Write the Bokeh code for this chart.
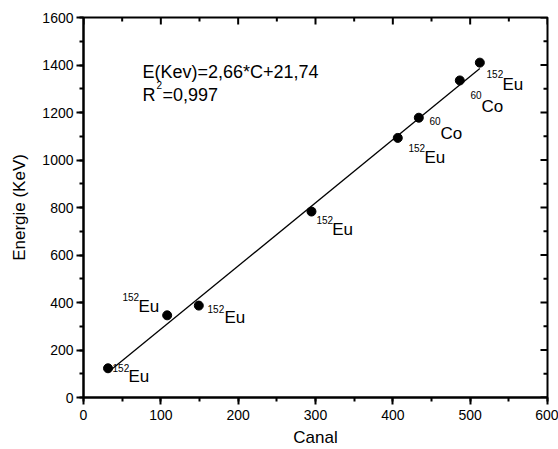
from bokeh.plotting import figure
from bokeh.models import Range1d, ColumnDataSource, SingleIntervalTicker
from bokeh.core.properties import value
from bokeh.embed import file_html
from bokeh.resources import INLINE

# ---- data ----
canal = [31.7, 108.2, 149.1, 294.8, 406.4, 433.6, 486.6, 512.5]
energie = [123, 346, 387, 783, 1093, 1178, 1335, 1410]
mass_numbers = ["152", "152", "152", "152", "152", "60", "60", "152"]
elements = ["Eu", "Eu", "Eu", "Eu", "Eu", "Co", "Co", "Eu"]
slope = 2.66
intercept = 21.74
fit_text = "E(Kev)=2,66*C+21,74"
r2_text = "=0,997"
x_label = "Canal"
y_label = "Energie (KeV)"
x_min, x_max, x_step = 0, 600, 100
y_min, y_max, y_step = 0, 1600, 200

# ---- label placement (pixels relative to each point) ----
BASE_SHIFT = -6
sup_dx = [4.5, -44.7, 8.7, 5, 10.7, 10.7, 10.7, 6.7]
sup_dy = [5.7, -12.3, 9, 14, 15.7, 9.7, 21, 17]
main_dx = [20.5, -28.7, 25.7, 20.7, 26.7, 21.7, 21.7, 22.7]
main_dy = [14, -3.3, 18, 24, 25.7, 21.7, 32, 28]

FONT = value("Liberation Sans")
W, H = 558, 449
BL, BR, BT, BB = 83, 11, 17, 52
frame_w = W - BL - BR
frame_h = H - BT - BB
px_x = frame_w / (x_max - x_min)
px_y = frame_h / (y_max - y_min)

p = figure(width=W, height=H, x_range=Range1d(x_min, x_max), y_range=Range1d(y_min, y_max),
           output_backend="svg", toolbar_location=None,
           min_border_left=BL, min_border_right=BR, min_border_top=BT, min_border_bottom=BB,
           x_axis_label=x_label, y_axis_label=y_label)
p.outline_line_color = "black"
p.outline_line_width = 2
p.xgrid.visible = False
p.ygrid.visible = False

p.xaxis.ticker = SingleIntervalTicker(interval=x_step, num_minor_ticks=2)
p.yaxis.ticker = SingleIntervalTicker(interval=y_step, num_minor_ticks=2)

for ax in (p.xaxis[0], p.yaxis[0]):
    ax.axis_line_width = 2
    ax.axis_line_color = "black"
    ax.major_tick_line_width = 2
    ax.minor_tick_line_width = 2
    ax.major_tick_out = 7
    ax.major_tick_in = 0
    ax.minor_tick_out = 4
    ax.minor_tick_in = 0
    ax.major_label_text_font = "Liberation Sans"
    ax.major_label_text_font_size = "14px"
    ax.major_label_text_color = "black"
    ax.axis_label_text_font = "Liberation Sans"
    ax.axis_label_text_font_size = "17px"
    ax.axis_label_text_font_style = "normal"
    ax.axis_label_text_color = "black"

p.xaxis.major_label_standoff = 5
p.xaxis.axis_label_standoff = 5
p.yaxis.major_label_standoff = 3
p.yaxis.axis_label_standoff = 10

# inward ticks on top and right edges
maj_x = list(range(x_min, x_max + 1, x_step))
min_x = [v + x_step / 2 for v in maj_x[:-1]]
maj_y = list(range(y_min, y_max + 1, y_step))
min_y = [v + y_step / 2 for v in maj_y[:-1]]
MAJ, MIN = 7, 4
p.segment(x0=maj_x, x1=maj_x, y0=[y_max] * len(maj_x), y1=[y_max - MAJ / px_y] * len(maj_x),
          line_color="black", line_width=2)
p.segment(x0=min_x, x1=min_x, y0=[y_max] * len(min_x), y1=[y_max - MIN / px_y] * len(min_x),
          line_color="black", line_width=2)
p.segment(x0=[x_max] * len(maj_y), x1=[x_max - MAJ / px_x] * len(maj_y), y0=maj_y, y1=maj_y,
          line_color="black", line_width=2)
p.segment(x0=[x_max] * len(min_y), x1=[x_max - MIN / px_x] * len(min_y), y0=min_y, y1=min_y,
          line_color="black", line_width=2)

# fit line
fx = [min(canal), max(canal)]
fy = [slope * v + intercept for v in fx]
p.line(fx, fy, line_color="black", line_width=1.3)

# points
p.scatter(canal, energie, size=9, color="black")

src = ColumnDataSource(dict(x=canal, y=energie, sup=mass_numbers, el=elements,
                            sdx=sup_dx, sdy=[d + BASE_SHIFT for d in sup_dy],
                            mdx=main_dx, mdy=[d + BASE_SHIFT for d in main_dy]))
p.text(x="x", y="y", text="sup", x_offset="sdx", y_offset="sdy", source=src,
       text_font=FONT, text_font_size="10px", text_align="left", text_baseline="alphabetic",
       text_color="black")
p.text(x="x", y="y", text="el", x_offset="mdx", y_offset="mdy", source=src,
       text_font=FONT, text_font_size="17px", text_align="left", text_baseline="alphabetic",
       text_color="black")

# equation
eq_x = 76.3
eq_y1 = 1347
eq_y2 = 1250
p.text(x=[eq_x], y=[eq_y1], text=[fit_text], y_offset=BASE_SHIFT, text_font=FONT, text_font_size="18px",
       text_align="left", text_baseline="alphabetic", text_color="black")
p.text(x=[eq_x], y=[eq_y2], text=["R"], y_offset=BASE_SHIFT, text_font=FONT, text_font_size="18px",
       text_align="left", text_baseline="alphabetic", text_color="black")
p.text(x=[eq_x], y=[eq_y2], text=["2"], x_offset=14, y_offset=BASE_SHIFT - 10, text_font=FONT,
       text_font_size="10px", text_align="left", text_baseline="alphabetic", text_color="black")
p.text(x=[eq_x], y=[eq_y2], text=[r2_text], x_offset=20, y_offset=BASE_SHIFT, text_font=FONT,
       text_font_size="18px", text_align="left", text_baseline="alphabetic", text_color="black")

open("out.html", "w").write(file_html(p, INLINE))
